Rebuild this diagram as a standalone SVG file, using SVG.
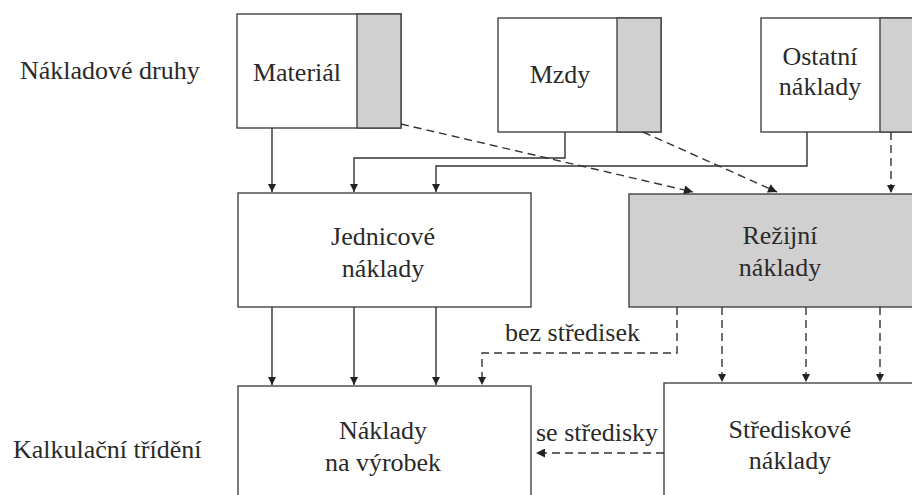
<svg xmlns="http://www.w3.org/2000/svg" width="912" height="495" viewBox="0 0 912 495">
<style>
  .box{fill:#fff;stroke:#444;stroke-width:1.4}
  .gray{fill:#d0d0d0;stroke:#444;stroke-width:1.4}
  .t{font-family:'Liberation Serif','DejaVu Serif',serif;font-size:26px;fill:#2a2a2a}
  .c{text-anchor:middle}
  .ln{fill:none;stroke:#333;stroke-width:1.4}
  .ds{fill:none;stroke:#333;stroke-width:1.4;stroke-dasharray:8 5}
</style>
<defs>
  <marker id="ah" viewBox="0 0 10 10" refX="10" refY="5" markerWidth="8" markerHeight="10" markerUnits="userSpaceOnUse" orient="auto">
    <path d="M0,0 L10,5 L0,10 Z" fill="#222"/>
  </marker>
  <marker id="ahw" viewBox="0 0 10 10" refX="10" refY="5" markerWidth="14" markerHeight="9" markerUnits="userSpaceOnUse" orient="auto">
    <path d="M0,0 L10,5 L0,10 Z" fill="#222"/>
  </marker>
</defs>
<g id="labels">
  <text class="t" x="20" y="79">Nákladové druhy</text>
  <text class="t" x="13" y="458">Kalkulační třídění</text>
</g>
<g id="material">
  <rect class="box" x="237" y="14" width="164" height="114"/>
  <rect class="gray" x="357" y="14" width="44" height="114"/>
  <text class="t c" x="297" y="81">Materiál</text>
</g>
<g id="mzdy">
  <rect class="box" x="498" y="18" width="163" height="114"/>
  <rect class="gray" x="617" y="18" width="44" height="114"/>
  <text class="t c" x="560" y="83">Mzdy</text>
</g>
<g id="ostatni">
  <rect class="box" x="761" y="18" width="160" height="114"/>
  <rect class="gray" x="880" y="18" width="41" height="114"/>
  <text class="t c" x="820" y="65">Ostatní</text>
  <text class="t c" x="820" y="95">náklady</text>
</g>
<g id="jednicove">
  <rect class="box" x="238" y="193" width="293" height="114"/>
  <text class="t c" x="383" y="245">Jednicové</text>
  <text class="t c" x="383" y="277">náklady</text>
</g>
<g id="rezijni">
  <rect class="gray" x="629" y="194" width="292" height="113"/>
  <text class="t c" x="780" y="244">Režijní</text>
  <text class="t c" x="780" y="276">náklady</text>
</g>
<g id="naklady-na-vyrobek">
  <rect class="box" x="238" y="386" width="293" height="120"/>
  <text class="t c" x="383" y="439">Náklady</text>
  <text class="t c" x="383" y="471">na výrobek</text>
</g>
<g id="strediskove">
  <rect class="box" x="664" y="383" width="260" height="122"/>
  <text class="t c" x="790" y="438">Střediskové</text>
  <text class="t c" x="790" y="469">náklady</text>
</g>
<g id="connectors">
  <path class="ln" d="M272,128 V192" marker-end="url(#ah)"/>
  <path class="ln" d="M565,132 V158 H354 V192" marker-end="url(#ah)"/>
  <path class="ln" d="M807,132 V166 H436 V192" marker-end="url(#ah)"/>
  <path class="ds" d="M401,124 L693,192" marker-end="url(#ahw)"/>
  <path class="ds" d="M643,132 L777,192" marker-end="url(#ahw)"/>
  <path class="ds" d="M891,132 V193" marker-end="url(#ah)"/>
  <path class="ln" d="M272,307 V385" marker-end="url(#ah)"/>
  <path class="ln" d="M354,307 V385" marker-end="url(#ah)"/>
  <path class="ln" d="M436,307 V385" marker-end="url(#ah)"/>
  <path class="ds" d="M677,307 V353 H482 V385" marker-end="url(#ah)"/>
  <path class="ds" d="M722,307 V382" marker-end="url(#ah)"/>
  <path class="ds" d="M806,307 V382" marker-end="url(#ah)"/>
  <path class="ds" d="M880,307 V382" marker-end="url(#ah)"/>
  <path class="ds" d="M664,453 H536" marker-end="url(#ahw)"/>
  <text class="t" x="505" y="341">bez středisek</text>
  <text class="t" x="536" y="441">se středisky</text>
</g>
</svg>
